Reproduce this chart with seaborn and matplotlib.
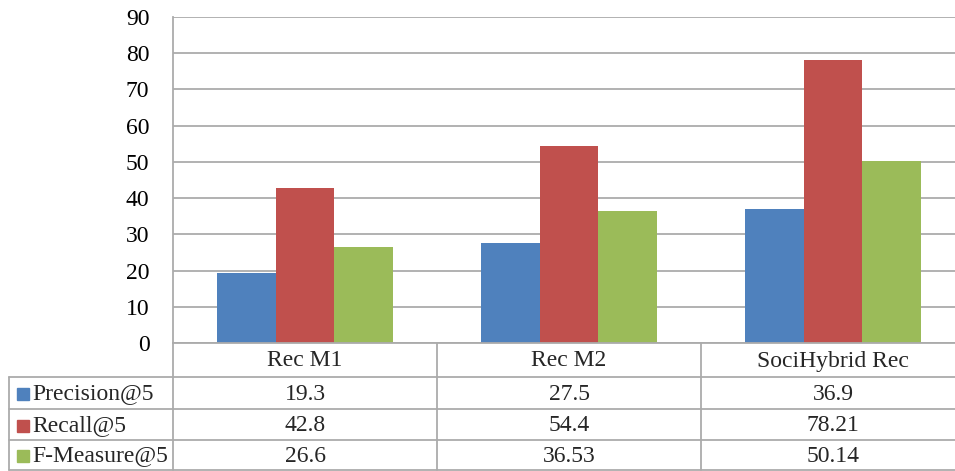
import pandas as pd
import matplotlib
matplotlib.use("Agg")
import matplotlib.pyplot as plt
import seaborn as sns

methods = ["Rec M1", "Rec M2", "SociHybrid Rec"]
metrics = ["Precision@5", "Recall@5", "F-Measure@5"]
precision = [19.3, 27.5, 36.9]
recall = [42.8, 54.4, 78.21]
fmeasure = [26.6, 36.53, 50.14]
table_text = [["19.3", "27.5", "36.9"],
              ["42.8", "54.4", "78.21"],
              ["26.6", "36.53", "50.14"]]
colors = ["#4F81BD", "#C0504D", "#9BBB59"]

df = pd.DataFrame({"method": methods * 3,
                   "metric": [m for m in metrics for _ in methods],
                   "value": precision + recall + fmeasure})

sns.set_style("white")
plt.rcParams["font.family"] = ["Liberation Serif", "DejaVu Serif"]

W, H = 955, 471
fig = plt.figure(figsize=(W / 100, H / 100), dpi=100)

def fx(x):
    return x / W

def fy(y):
    return 1 - y / H

# plot area: x 173..965 px, y 17..343 px
ax = fig.add_axes([fx(173), fy(343), fx(965) - fx(173), fy(17) - fy(343)])
sns.barplot(data=df, x="method", y="value", hue="metric", palette=colors,
            width=0.67, saturation=1, ax=ax, legend=False, edgecolor="none")
ax.set_ylim(0, 90)
ax.set_xlim(-0.5, 2.5)
ax.set_yticks(range(0, 91, 10))
ax.set_xticks([])
ax.set_xlabel("")
ax.set_ylabel("")
ax.yaxis.grid(True, color="#ABABAB", linewidth=1.3)
ax.set_axisbelow(True)
for s in ["top", "right"]:
    ax.spines[s].set_visible(False)
for s in ["left", "bottom"]:
    ax.spines[s].set_color("#ABABAB")
    ax.spines[s].set_linewidth(1.3)
ax.tick_params(axis="y", length=0, pad=17, labelsize=17, labelcolor="black")

# data table below the plot
lc = "#ABABAB"
lw = 1.3
rows_y = [343, 377, 409, 440, 470]
col_x = [173, 437, 701, 965]
for y in rows_y[1:]:
    fig.add_artist(plt.Line2D([fx(9), fx(965)], [fy(y), fy(y)], color=lc, lw=lw))
fig.add_artist(plt.Line2D([fx(9), fx(9)], [fy(377), fy(470)], color=lc, lw=lw))
for x in col_x[:-1]:
    fig.add_artist(plt.Line2D([fx(x), fx(x)], [fy(343), fy(470)], color=lc, lw=lw))

for j, m in enumerate(methods):
    cx = (col_x[j] + col_x[j + 1]) / 2
    fig.text(fx(cx), fy((rows_y[0] + rows_y[1]) / 2 + 1), m, ha="center", va="center", fontsize=17)
for i, metric in enumerate(metrics):
    cy = (rows_y[i + 1] + rows_y[i + 2]) / 2 + 1
    fig.add_artist(plt.Rectangle((fx(17), fy(cy + 6)), fx(12), fy(0) - fy(12),
                                 color=colors[i], transform=fig.transFigure))
    fig.text(fx(32), fy(cy), metric, ha="left", va="center", fontsize=17)
    for j in range(3):
        cx = (col_x[j] + col_x[j + 1]) / 2
        fig.text(fx(cx), fy(cy), table_text[i][j], ha="center", va="center", fontsize=17)

fig.savefig("out.png", dpi=100)
